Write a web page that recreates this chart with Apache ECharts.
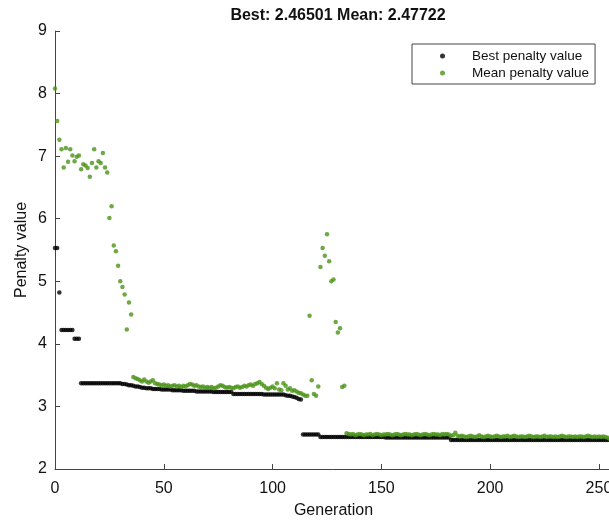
<!DOCTYPE html>
<html>
<head>
<meta charset="utf-8">
<script src="https://cdn.jsdelivr.net/npm/echarts@6/dist/echarts.min.js"></script>
<style>
  html, body { margin: 0; padding: 0; background: #fff; }
  #chart { width: 609px; height: 524px; }
</style>
</head>
<body>
<div id="chart"></div>
<script>
// values read per generation (index = generation)
const bestPenalty = [
    5.53, 5.53, 4.82, 4.22, 4.22, 4.22, 4.22, 4.22, 4.22, 4.08,
    4.08, 4.08, 3.37, 3.37, 3.37, 3.37, 3.37, 3.37, 3.37, 3.37,
    3.37, 3.37, 3.37, 3.37, 3.37, 3.37, 3.37, 3.37, 3.37, 3.37,
    3.37, 3.36, 3.36, 3.35, 3.34, 3.34, 3.33, 3.32, 3.32, 3.31,
    3.30, 3.30, 3.29, 3.29, 3.29, 3.28, 3.28, 3.28, 3.28, 3.27,
    3.27, 3.27, 3.27, 3.27, 3.26, 3.26, 3.26, 3.26, 3.26, 3.25,
    3.25, 3.25, 3.25, 3.25, 3.25, 3.24, 3.24, 3.24, 3.24, 3.24,
    3.24, 3.24, 3.24, 3.23, 3.23, 3.23, 3.23, 3.23, 3.23, 3.23,
    3.23, 3.23, 3.20, 3.20, 3.20, 3.20, 3.20, 3.20, 3.20, 3.20,
    3.20, 3.20, 3.20, 3.20, 3.20, 3.20, 3.19, 3.19, 3.19, 3.19,
    3.19, 3.19, 3.19, 3.19, 3.19, 3.19, 3.18, 3.17, 3.17, 3.16,
    3.15, 3.14, 3.12, 3.11, 2.55, 2.55, 2.55, 2.55, 2.55, 2.55,
    2.55, 2.55, 2.51, 2.51, 2.51, 2.51, 2.51, 2.51, 2.51, 2.51,
    2.51, 2.51, 2.51, 2.51, 2.51, 2.51, 2.51, 2.51, 2.51, 2.51,
    2.51, 2.51, 2.51, 2.51, 2.51, 2.51, 2.51, 2.51, 2.51, 2.51,
    2.51, 2.51, 2.505, 2.505, 2.505, 2.505, 2.505, 2.505, 2.505, 2.505,
    2.505, 2.505, 2.505, 2.505, 2.505, 2.505, 2.505, 2.505, 2.505, 2.505,
    2.505, 2.505, 2.505, 2.505, 2.505, 2.505, 2.505, 2.505, 2.505, 2.505,
    2.505, 2.505, 2.465, 2.465, 2.465, 2.465, 2.465, 2.465, 2.465, 2.465,
    2.465, 2.465, 2.465, 2.465, 2.465, 2.465, 2.465, 2.465, 2.465, 2.465,
    2.465, 2.465, 2.465, 2.465, 2.465, 2.465, 2.465, 2.465, 2.465, 2.465,
    2.465, 2.465, 2.465, 2.465, 2.465, 2.465, 2.465, 2.465, 2.465, 2.465,
    2.465, 2.465, 2.465, 2.465, 2.465, 2.465, 2.465, 2.465, 2.465, 2.465,
    2.465, 2.465, 2.465, 2.465, 2.465, 2.465, 2.465, 2.465, 2.465, 2.465,
    2.465, 2.465, 2.465, 2.465, 2.465, 2.465, 2.465, 2.465, 2.465, 2.465,
    2.465, 2.465, 2.465, 2.465, 2.465, 2.465
];

const meanPenalty = [
    8.08, 7.56, 7.26, 7.11, 6.82, 7.13, 6.91, 7.11, 7.01, 6.92,
    6.99, 7.01, 6.79, 6.87, 6.85, 6.81, 6.67, 6.89, 7.11, 6.82,
    6.92, 6.89, 7.05, 6.82, 6.74, 6.01, 6.20, 5.57, 5.48, 5.25,
    5.00, 4.91, 4.79, 4.23, 4.66, 4.47, 3.47, 3.45, 3.44, 3.42,
    3.40, 3.43, 3.40, 3.38, 3.40, 3.42, 3.37, 3.36, 3.35, 3.34,
    3.35, 3.33, 3.34, 3.32, 3.33, 3.34, 3.32, 3.33, 3.31, 3.33,
    3.32, 3.34, 3.36, 3.35, 3.33, 3.34, 3.32, 3.31, 3.32, 3.30,
    3.31, 3.30, 3.31, 3.29, 3.30, 3.32, 3.34, 3.33, 3.31, 3.30,
    3.31, 3.30, 3.29, 3.31, 3.32, 3.30, 3.31, 3.33, 3.32, 3.34,
    3.35, 3.33, 3.36, 3.37, 3.39, 3.36, 3.33, 3.30, 3.28, 3.30,
    3.32, 3.29, 3.37, 3.27, 3.26, 3.37, 3.33, 3.27, 3.29, 3.25,
    3.26, 3.24, 3.22, 3.21, 3.19, 3.17, 3.17, 4.45, 3.42, 3.20,
    3.17, 3.32, 5.23, 5.53, 5.41, 5.75, 5.32, 5.00, 5.03, 4.35,
    4.18, 4.25, 3.31, 3.33, 2.57, 2.56, 2.55, 2.56, 2.54, 2.55,
    2.56, 2.55, 2.54, 2.55, 2.55, 2.56, 2.54, 2.55, 2.56, 2.55,
    2.54, 2.55, 2.55, 2.56, 2.55, 2.54, 2.55, 2.56, 2.55, 2.54,
    2.55, 2.56, 2.55, 2.55, 2.54, 2.55, 2.56, 2.55, 2.54, 2.55,
    2.56, 2.55, 2.54, 2.55, 2.56, 2.55, 2.55, 2.54, 2.56, 2.55,
    2.56, 2.55, 2.53, 2.54, 2.58, 2.53, 2.52, 2.53, 2.52, 2.51,
    2.52, 2.53, 2.52, 2.51, 2.52, 2.54, 2.52, 2.51, 2.52, 2.53,
    2.52, 2.51, 2.52, 2.53, 2.52, 2.51, 2.52, 2.52, 2.53, 2.51,
    2.52, 2.53, 2.52, 2.51, 2.52, 2.52, 2.51, 2.52, 2.53, 2.52,
    2.51, 2.52, 2.52, 2.51, 2.52, 2.53, 2.51, 2.52, 2.52, 2.51,
    2.52, 2.51, 2.52, 2.53, 2.52, 2.51, 2.52, 2.52, 2.51, 2.52,
    2.51, 2.52, 2.52, 2.51, 2.52, 2.53, 2.52, 2.51, 2.52, 2.51,
    2.52, 2.51, 2.52, 2.51, 2.50, 2.48
];

const seriesNames = ['Best penalty value', 'Mean penalty value'];
const titleText = 'Best: 2.46501 Mean: 2.47722';
const xTicks = [0, 50, 100, 150, 200, 250];
const yTicks = [2, 3, 4, 5, 6, 7, 8, 9];

const FONT = '"Liberation Sans", Arial, sans-serif';
const chart = echarts.init(document.getElementById('chart'));

const toPoints = arr => arr.map((v, i) => [i, v]);

chart.setOption({
    animation: false,
    backgroundColor: '#fff',
    title: {
        text: titleText,
        left: 333,
        textAlign: 'center',
        top: 3,
        textStyle: { fontFamily: FONT, fontSize: 16, fontWeight: 'bold', color: '#111' }
    },
    legend: {
        data: seriesNames,
        orient: 'vertical',
        left: 412,
        top: 44,
        itemWidth: 5,
        itemHeight: 5,
        itemGap: 3,
        padding: [5, 6, 4, 28],
        borderColor: '#444',
        borderWidth: 1,
        borderRadius: 0,
        icon: 'circle',
        textStyle: { fontFamily: FONT, fontSize: 13.5, color: '#111', lineHeight: 14, padding: [0, 0, 0, 22] }
    },
    grid: { left: 55, right: -3, top: 31, bottom: 55, outerBoundsMode: 'none', containLabel: false },
    xAxis: {
        type: 'value',
        min: xTicks[0],
        max: 256,
        interval: 50,
        name: 'Generation',
        nameLocation: 'middle',
        nameGap: 34,
        nameTextStyle: { fontFamily: FONT, fontSize: 16, color: '#111' },
        axisLine: { lineStyle: { color: '#444', width: 1 } },
        axisTick: { inside: true, length: 5, lineStyle: { color: '#444' } },
        axisLabel: {
            fontFamily: FONT, fontSize: 16, color: '#111', margin: 12,
            showMaxLabel: false,
            formatter: v => (xTicks.includes(v) ? String(v) : '')
        },
        splitLine: { show: false }
    },
    yAxis: {
        type: 'value',
        min: yTicks[0],
        max: yTicks[yTicks.length - 1],
        interval: 1,
        name: 'Penalty value',
        nameLocation: 'middle',
        nameGap: 25,
        nameMoveOverlap: false,
        nameTextStyle: { fontFamily: FONT, fontSize: 16, color: '#111' },
        axisLine: { show: true, lineStyle: { color: '#444', width: 1 } },
        axisTick: { show: true, inside: true, length: 5, lineStyle: { color: '#444' } },
        axisLabel: { fontFamily: FONT, fontSize: 16, color: '#111', margin: 8 },
        splitLine: { show: false }
    },
    series: [
        {
            name: seriesNames[0],
            type: 'scatter',
            symbol: 'circle',
            symbolSize: 4.5,
            itemStyle: { color: '#000' },
            data: toPoints(bestPenalty)
        },
        {
            name: seriesNames[1],
            type: 'scatter',
            symbol: 'circle',
            symbolSize: 4.5,
            itemStyle: { color: '#4a9418' },
            data: toPoints(meanPenalty)
        }
    ]
});
</script>
</body>
</html>
